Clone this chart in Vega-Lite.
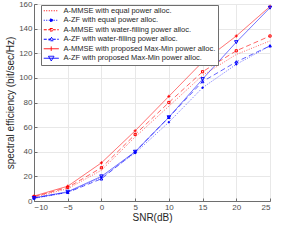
{
  "$schema": "https://vega.github.io/schema/vega-lite/v6.json",
  "width": 236,
  "height": 197,
  "autosize": {"type": "none"},
  "padding": {"left": 34, "top": 4, "right": 14, "bottom": 43},
  "config": {
    "font": "Liberation Sans",
    "view": {"stroke": "#6e6e6e", "strokeWidth": 1},
    "axis": {"labelFont": "Liberation Sans", "titleFont": "Liberation Sans", "labelFontSize": 8, "titleFontSize": 10, "titleFontWeight": "normal", "labelColor": "#4d4d4d", "titleColor": "#262626", "domainColor": "#6e6e6e", "tickColor": "#6e6e6e", "gridColor": "#e8e8e8", "tickSize": -3, "labelPadding": 5}
  },
  "data": {"values": [
    {"snr": -10, "eff": 3, "s": "A-MMSE with equal power alloc."},
    {"snr": -5, "eff": 10, "s": "A-MMSE with equal power alloc."},
    {"snr": 0, "eff": 25, "s": "A-MMSE with equal power alloc."},
    {"snr": 5, "eff": 52, "s": "A-MMSE with equal power alloc."},
    {"snr": 10, "eff": 77, "s": "A-MMSE with equal power alloc."},
    {"snr": 15, "eff": 102, "s": "A-MMSE with equal power alloc."},
    {"snr": 20, "eff": 119, "s": "A-MMSE with equal power alloc."},
    {"snr": 25, "eff": 130, "s": "A-MMSE with equal power alloc."},
    {"snr": -10, "eff": 2, "s": "A-ZF with equal power alloc."},
    {"snr": -5, "eff": 7, "s": "A-ZF with equal power alloc."},
    {"snr": 0, "eff": 19, "s": "A-ZF with equal power alloc."},
    {"snr": 5, "eff": 39, "s": "A-ZF with equal power alloc."},
    {"snr": 10, "eff": 64, "s": "A-ZF with equal power alloc."},
    {"snr": 15, "eff": 92, "s": "A-ZF with equal power alloc."},
    {"snr": 20, "eff": 111, "s": "A-ZF with equal power alloc."},
    {"snr": 25, "eff": 126, "s": "A-ZF with equal power alloc."},
    {"snr": -10, "eff": 3.5, "s": "A-MMSE with water-filling power alloc."},
    {"snr": -5, "eff": 11, "s": "A-MMSE with water-filling power alloc."},
    {"snr": 0, "eff": 27, "s": "A-MMSE with water-filling power alloc."},
    {"snr": 5, "eff": 54, "s": "A-MMSE with water-filling power alloc."},
    {"snr": 10, "eff": 80, "s": "A-MMSE with water-filling power alloc."},
    {"snr": 15, "eff": 105, "s": "A-MMSE with water-filling power alloc."},
    {"snr": 20, "eff": 122, "s": "A-MMSE with water-filling power alloc."},
    {"snr": 25, "eff": 134, "s": "A-MMSE with water-filling power alloc."},
    {"snr": -10, "eff": 2.5, "s": "A-ZF with water-filling power alloc."},
    {"snr": -5, "eff": 7, "s": "A-ZF with water-filling power alloc."},
    {"snr": 0, "eff": 18, "s": "A-ZF with water-filling power alloc."},
    {"snr": 5, "eff": 40, "s": "A-ZF with water-filling power alloc."},
    {"snr": 10, "eff": 68, "s": "A-ZF with water-filling power alloc."},
    {"snr": 15, "eff": 97, "s": "A-ZF with water-filling power alloc."},
    {"snr": 20, "eff": 113, "s": "A-ZF with water-filling power alloc."},
    {"snr": 25, "eff": 126, "s": "A-ZF with water-filling power alloc."},
    {"snr": -10, "eff": 4, "s": "A-MMSE with proposed Max-Min power alloc."},
    {"snr": -5, "eff": 12, "s": "A-MMSE with proposed Max-Min power alloc."},
    {"snr": 0, "eff": 31, "s": "A-MMSE with proposed Max-Min power alloc."},
    {"snr": 5, "eff": 57, "s": "A-MMSE with proposed Max-Min power alloc."},
    {"snr": 10, "eff": 85, "s": "A-MMSE with proposed Max-Min power alloc."},
    {"snr": 15, "eff": 113, "s": "A-MMSE with proposed Max-Min power alloc."},
    {"snr": 20, "eff": 134, "s": "A-MMSE with proposed Max-Min power alloc."},
    {"snr": 25, "eff": 158, "s": "A-MMSE with proposed Max-Min power alloc."},
    {"snr": -10, "eff": 2.5, "s": "A-ZF with proposed Max-Min power alloc."},
    {"snr": -5, "eff": 7.5, "s": "A-ZF with proposed Max-Min power alloc."},
    {"snr": 0, "eff": 20, "s": "A-ZF with proposed Max-Min power alloc."},
    {"snr": 5, "eff": 40, "s": "A-ZF with proposed Max-Min power alloc."},
    {"snr": 10, "eff": 68, "s": "A-ZF with proposed Max-Min power alloc."},
    {"snr": 15, "eff": 99, "s": "A-ZF with proposed Max-Min power alloc."},
    {"snr": 20, "eff": 129, "s": "A-ZF with proposed Max-Min power alloc."},
    {"snr": 25, "eff": 157, "s": "A-ZF with proposed Max-Min power alloc."}
  ]},
  "encoding": {
    "x": {"field": "snr", "type": "quantitative", "title": "SNR(dB)", "scale": {"domain": [-10, 25], "nice": false}, "axis": {"values": [-10, -5, 0, 5, 10, 15, 20, 25], "grid": true, "titlePadding": 1}},
    "y": {"field": "eff", "type": "quantitative", "title": "spectral efficiency (bit/sec/Hz)", "scale": {"domain": [0, 160], "nice": false}, "axis": {"values": [0, 20, 40, 60, 80, 100, 120, 140, 160], "grid": true, "titlePadding": 3}}
  },
  "layer": [
    {
      "mark": {"type": "line", "strokeWidth": 1},
      "encoding": {
        "color": {"field": "s", "type": "nominal", "scale": {"domain": ["A-MMSE with equal power alloc.", "A-ZF with equal power alloc.", "A-MMSE with water-filling power alloc.", "A-ZF with water-filling power alloc.", "A-MMSE with proposed Max-Min power alloc.", "A-ZF with proposed Max-Min power alloc."], "range": ["#ff0000", "#0000ff", "#ff0000", "#0000ff", "#ff0000", "#0000ff"]}, "legend": null},
        "strokeDash": {"field": "s", "type": "nominal", "scale": {"domain": ["A-MMSE with equal power alloc.", "A-ZF with equal power alloc.", "A-MMSE with water-filling power alloc.", "A-ZF with water-filling power alloc.", "A-MMSE with proposed Max-Min power alloc.", "A-ZF with proposed Max-Min power alloc."], "range": [[1, 1.5], [1, 1.5], [5, 3], [5, 3], [1, 0], [1, 0]]}, "legend": null},
        "opacity": {"field": "s", "type": "nominal", "scale": {"domain": ["A-MMSE with equal power alloc.", "A-ZF with equal power alloc.", "A-MMSE with water-filling power alloc.", "A-ZF with water-filling power alloc.", "A-MMSE with proposed Max-Min power alloc.", "A-ZF with proposed Max-Min power alloc."], "range": [0.6, 0.6, 1, 1, 1, 1]}, "legend": null}
      }
    },
    {
      "mark": {"type": "point", "filled": false, "strokeWidth": 1, "opacity": 1},
      "encoding": {
        "stroke": {"field": "s", "type": "nominal", "scale": {"domain": ["A-MMSE with equal power alloc.", "A-ZF with equal power alloc.", "A-MMSE with water-filling power alloc.", "A-ZF with water-filling power alloc.", "A-MMSE with proposed Max-Min power alloc.", "A-ZF with proposed Max-Min power alloc."], "range": ["#ff0000", "#0000ff", "#ff0000", "#0000ff", "#ff0000", "#0000ff"]}, "legend": null},
        "fill": {"field": "s", "type": "nominal", "scale": {"domain": ["A-MMSE with equal power alloc.", "A-ZF with equal power alloc.", "A-MMSE with water-filling power alloc.", "A-ZF with water-filling power alloc.", "A-MMSE with proposed Max-Min power alloc.", "A-ZF with proposed Max-Min power alloc."], "range": ["transparent", "#0000ff", "transparent", "transparent", "transparent", "transparent"]}, "legend": null},
        "shape": {"field": "s", "type": "nominal", "scale": {"domain": ["A-MMSE with equal power alloc.", "A-ZF with equal power alloc.", "A-MMSE with water-filling power alloc.", "A-ZF with water-filling power alloc.", "A-MMSE with proposed Max-Min power alloc.", "A-ZF with proposed Max-Min power alloc."], "range": ["M0,0Z", "circle", "square", "triangle-up", "M-1,0L1,0M0,-1L0,1", "triangle-down"]}, "legend": null},
        "size": {"field": "s", "type": "nominal", "scale": {"domain": ["A-MMSE with equal power alloc.", "A-ZF with equal power alloc.", "A-MMSE with water-filling power alloc.", "A-ZF with water-filling power alloc.", "A-MMSE with proposed Max-Min power alloc.", "A-ZF with proposed Max-Min power alloc."], "range": [0, 12, 9, 28, 16, 45]}, "legend": null}
      }
    },
    {
      "mark": {"type": "point", "filled": false, "strokeWidth": 1, "size": 25, "opacity": 0},
      "encoding": {
        "shape": {"field": "s", "type": "nominal", "scale": {"domain": ["A-MMSE with equal power alloc.", "A-ZF with equal power alloc.", "A-MMSE with water-filling power alloc.", "A-ZF with water-filling power alloc.", "A-MMSE with proposed Max-Min power alloc.", "A-ZF with proposed Max-Min power alloc."], "range": [
          "M-1.2,0L4.8,0",
          "M-1.2,0L4.8,0M2.4,0A0.6,0.6 0 1,1 1.2,0A0.6,0.6 0 1,1 2.4,0",
          "M-1.2,0L4.8,0M1.3,-0.5L2.3,-0.5L2.3,0.5L1.3,0.5Z",
          "M-1.2,0L4.8,0M1.8,-0.9L2.7,0.6L0.9,0.6Z",
          "M-1.2,0L4.8,0M1.8,-0.9L1.8,0.9",
          "M-1.2,0L4.8,0M1.8,1.1L2.9,-0.8L0.7,-0.8Z"
        ]}, "legend": {"orient": "none", "legendX": 7, "legendY": 1, "title": null, "padding": 2, "rowPadding": 0.5, "fillColor": "white", "strokeColor": "#6e6e6e", "labelFontSize": 7.5, "labelFont": "Liberation Sans", "labelColor": "#262626", "labelOffset": 13, "symbolSize": 25, "symbolStrokeWidth": 1, "symbolOpacity": 1, "labelLimit": 300}},
        "stroke": {"field": "s", "type": "nominal", "scale": {"domain": ["A-MMSE with equal power alloc.", "A-ZF with equal power alloc.", "A-MMSE with water-filling power alloc.", "A-ZF with water-filling power alloc.", "A-MMSE with proposed Max-Min power alloc.", "A-ZF with proposed Max-Min power alloc."], "range": ["#ff0000", "#0000ff", "#ff0000", "#0000ff", "#ff0000", "#0000ff"]}},
        "fill": {"field": "s", "type": "nominal", "scale": {"domain": ["A-MMSE with equal power alloc.", "A-ZF with equal power alloc.", "A-MMSE with water-filling power alloc.", "A-ZF with water-filling power alloc.", "A-MMSE with proposed Max-Min power alloc.", "A-ZF with proposed Max-Min power alloc."], "range": ["transparent", "#0000ff", "white", "white", "transparent", "white"]}},
        "strokeDash": {"field": "s", "type": "nominal", "scale": {"domain": ["A-MMSE with equal power alloc.", "A-ZF with equal power alloc.", "A-MMSE with water-filling power alloc.", "A-ZF with water-filling power alloc.", "A-MMSE with proposed Max-Min power alloc.", "A-ZF with proposed Max-Min power alloc."], "range": [[1, 1.5], [1, 1.5], [3, 1.5], [3, 1.5], [1, 0], [1, 0]]}}
      }
    }
  ],
  "resolve": {"scale": {"stroke": "independent", "fill": "independent", "shape": "independent", "strokeDash": "independent", "size": "independent", "color": "independent", "opacity": "independent"}}
}
